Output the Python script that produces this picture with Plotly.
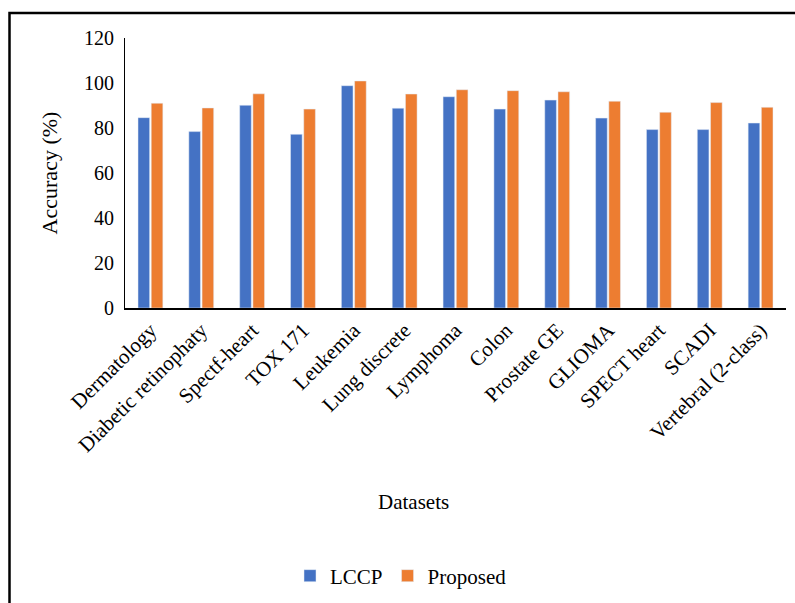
import plotly.graph_objects as go

categories = ["Dermatology", "Diabetic retinophaty", "Spectf-heart", "TOX 171", "Leukemia",
              "Lung discrete", "Lymphoma", "Colon", "Prostate GE", "GLIOMA", "SPECT heart",
              "SCADI", "Vertebral (2-class)"]
lccp = [84.6, 78.4, 90.1, 77.2, 98.8, 88.8, 93.9, 88.4, 92.4, 84.4, 79.3, 79.3, 82.2]
proposed = [91.0, 88.9, 95.2, 88.4, 100.9, 95.1, 97.0, 96.6, 96.1, 91.9, 87.0, 91.3, 89.2]
y_ticks = [0, 20, 40, 60, 80, 100, 120]

W, H = 795, 603
L, R, T, B = 125, 9, 38, 295
pw, ph = W - L - R, H - T - B

def px(x):
    return (x - L) / pw

def py(y):
    return (H - B - y) / ph

FONT = "Liberation Serif"

fig = go.Figure()
fig.add_trace(go.Bar(x=categories, y=lccp, name="LCCP", marker_color="#4472C4"))
fig.add_trace(go.Bar(x=categories, y=proposed, name="Proposed", marker_color="#ED7D31"))

fig.update_layout(
    width=W, height=H,
    margin=dict(l=L, r=R, t=T, b=B, autoexpand=False),
    paper_bgcolor="white", plot_bgcolor="white",
    barmode="group", bargap=0.48, bargroupgap=0.12,
    font=dict(family=FONT, color="black", size=20),
    showlegend=True,
    legend=dict(orientation="h", x=px(401), y=py(576), xanchor="center", yanchor="middle",
                font=dict(size=21, family=FONT), itemwidth=30, bgcolor="rgba(0,0,0,0)"),
    xaxis=dict(showline=True, linecolor="black", linewidth=1.5, showgrid=False,
               tickangle=-45, tickfont=dict(size=21, family=FONT), ticks="", zeroline=False),
    yaxis=dict(range=[0, 120], tickvals=y_ticks, showline=True, linecolor="black", linewidth=1,
               showgrid=False, zeroline=False, tickfont=dict(size=20, family=FONT), ticks="",
               ticklabelstandoff=6,
               title=dict(text="Accuracy (%)", font=dict(size=22, family=FONT), standoff=20)),
    annotations=[dict(text="Datasets", x=px(413), y=py(502), xref="paper", yref="paper",
                      showarrow=False, font=dict(size=21, family=FONT),
                      xanchor="center", yanchor="middle")],
    shapes=[dict(type="rect", xref="paper", yref="paper",
                 x0=px(9.5), x1=px(820), y0=py(13), y1=py(640),
                 line=dict(color="black", width=2.5), fillcolor="rgba(0,0,0,0)", layer="above")],
)

fig.write_html("out.html")
